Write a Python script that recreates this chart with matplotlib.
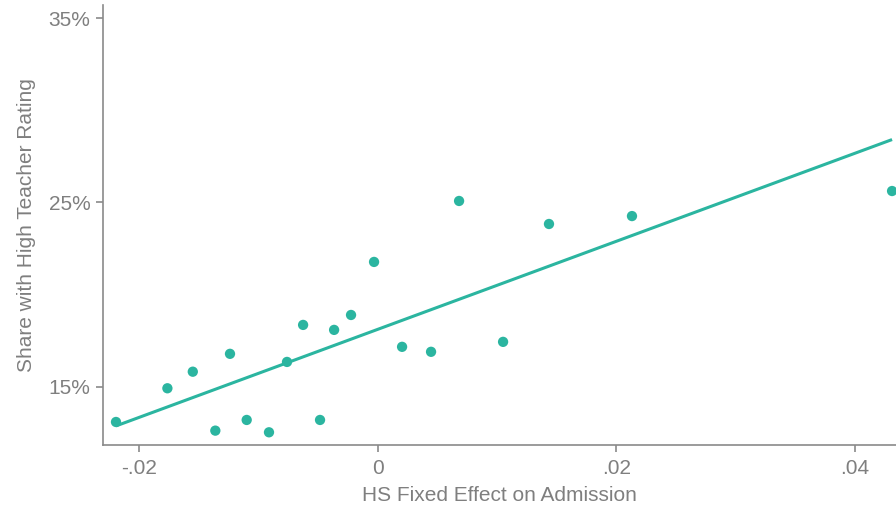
import matplotlib
matplotlib.use("Agg")
import matplotlib.pyplot as plt
import numpy as np

# Binned scatter: high school fixed effect on admission vs. share with high teacher rating
hs_fixed_effect = [-0.02195, -0.01764, -0.01551, -0.01362, -0.01239, -0.01099, -0.00912,
                   -0.00761, -0.00626, -0.00484, -0.00366, -0.00224, -0.00031, 0.00204,
                   0.00447, 0.00682, 0.01051, 0.01436, 0.02132, 0.04313]
share_high_rating = [13.08, 14.91, 15.81, 12.61, 16.78, 13.19, 12.52,
                     16.34, 18.35, 13.19, 18.08, 18.89, 21.77, 17.16,
                     16.89, 25.08, 17.43, 23.83, 24.26, 25.62]

# Linear fit (percentage points)
fit_intercept = 18.11
fit_slope = 238.9

x_ticks = [-0.02, 0.0, 0.02, 0.04]
x_tick_labels = ["-.02", "0", ".02", ".04"]
y_ticks = [15, 25, 35]
y_tick_labels = ["15%", "25%", "35%"]

teal = "#2bb5a0"
gray = "#7f7f7f"
spine_gray = "#8a8a8a"

plt.rcParams["font.family"] = ["Liberation Sans", "DejaVu Sans"]

fig = plt.figure(figsize=(8.96, 5.11), dpi=100)
ax = fig.add_axes([103 / 896, 1 - 445 / 511, 1 - 103 / 896, (445 - 5) / 511])

ax.scatter(hs_fixed_effect, share_high_rating, s=55, color=teal, edgecolors="none",
           zorder=3, clip_on=False)

xs = np.array([min(hs_fixed_effect), max(hs_fixed_effect)])
ax.plot(xs, fit_intercept + fit_slope * xs, color=teal, lw=2.2, zorder=2,
        solid_capstyle="butt")

ax.set_xlim(-0.02304, 0.04346)
ax.set_ylim(11.83, 35.72)

ax.set_xticks(x_ticks)
ax.set_xticklabels(x_tick_labels)
ax.set_yticks(y_ticks)
ax.set_yticklabels(y_tick_labels)

for side in ("top", "right"):
    ax.spines[side].set_visible(False)
for side in ("left", "bottom"):
    ax.spines[side].set_color(spine_gray)
    ax.spines[side].set_linewidth(1.2)

ax.tick_params(axis="both", colors=spine_gray, length=5, width=1.2, labelsize=15,
               labelcolor=gray)
ax.tick_params(axis="y", pad=4)
ax.tick_params(axis="x", pad=5)

ax.set_xlabel("HS Fixed Effect on Admission", fontsize=15, color=gray, labelpad=6)
ax.set_ylabel("Share with High Teacher Rating", fontsize=15, color=gray, labelpad=9)

fig.savefig("out.png", dpi=100)
